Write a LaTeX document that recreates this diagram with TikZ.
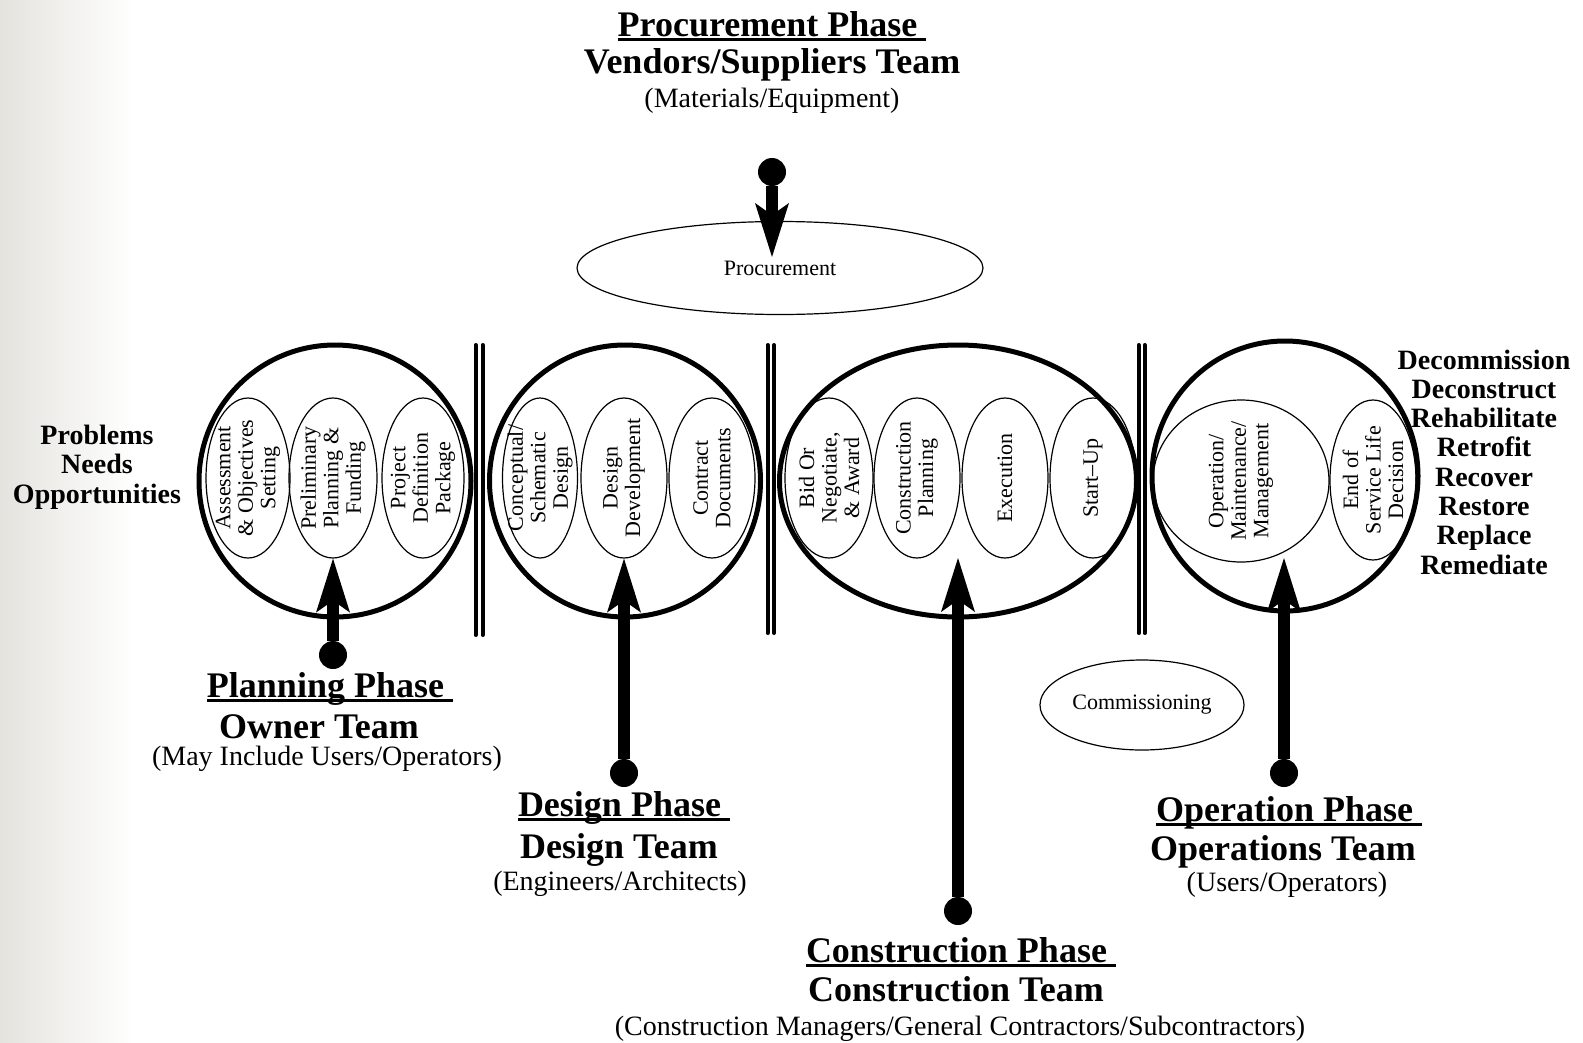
\documentclass[tikz,border=0pt]{standalone}
\usepackage{fontspec}
\setmainfont{Liberation Serif}
\usetikzlibrary{shapes.geometric, arrows.meta, positioning}
\definecolor{slidegray}{RGB}{228,227,222}

\newcommand{\phaseline}[1]{\setbox0=\hbox{#1}\rlap{\rule[-5pt]{\wd0}{3pt}}\box0}

\tikzset{
  phasering/.style={ellipse, draw, line width=5pt, inner sep=0pt},
  stageoval/.style={ellipse, draw, line width=1.2pt, inner sep=0pt, minimum height=160pt},
  stagetext/.style={rotate=90, align=center, inner sep=0pt, font=\fontsize{22}{22.5}\selectfont},
  taskoval/.style={ellipse, draw, line width=1.2pt, inner sep=0pt, font=\fontsize{22}{24}\selectfont},
  headtext/.style={anchor=base, font=\fontsize{36}{40}\selectfont\bfseries},
  notetext/.style={anchor=base, font=\fontsize{28}{30}\selectfont},
  listtext/.style={align=center, font=\fontsize{28}{29.3}\selectfont\bfseries},
  teamdot/.style={circle, fill, inner sep=0pt, minimum size=28pt},
  divider/.style={line width=4pt, line cap=round},
  phasearrow/.style={line width=12pt, -{Stealth[length=54pt, width=34pt, inset=12pt, line width=0pt]}},
}

\begin{document}
\begin{tikzpicture}[x=1pt, y=-1pt]
        \useasboundingbox (0,0) rectangle (1583,1042);
        \fill[white] (0,0) rectangle (1583,1042);
        \shade[left color=slidegray, right color=white] (0,0) rectangle (135,1042);

        % Phase rings
        \node[phasering, minimum width=272pt, minimum height=272pt] (planning) at (335,481) {};
        \node[phasering, minimum width=271pt, minimum height=272pt] (design) at (625,481) {};
        \node[phasering, minimum width=357pt, minimum height=272pt] (construct) at (958,481) {};
        \node[phasering, minimum width=266pt, minimum height=270pt] (operation) at (1285,476) {};

        % Separators between the phases
        \foreach \x/\y in {475.5/637, 482.5/637, 767.5/635, 774/635, 1138.7/635, 1144.7/635}
          \draw[divider] (\x,345) -- (\x,\y-2);

        % Planning steps
        \node[stageoval, minimum width=84pt, label={[stagetext]center:{Assessment\\\& Objectives\\Setting}}] (assess) at (248,478) {};
        \node[stageoval, minimum width=88pt, label={[stagetext]center:{Preliminary\\Planning \&\\Funding}}] (prelim) at (333,478) {};
        \node[stageoval, minimum width=82pt, label={[stagetext]center:{Project\\Definition\\Package}}] (defpack) at (423,478) {};

        % Design steps
        \node[stageoval, minimum width=75pt, label={[stagetext]center:{Conceptual/\\Schematic\\Design}}] (concept) at (540,478) {};
        \node[stageoval, minimum width=86pt, label={[stagetext]center:{Design\\Development}}] (devel) at (624,478) {};
        \node[stageoval, minimum width=86pt, label={[stagetext]center:{Contract\\Documents}}] (contract) at (712,478) {};

        % Construction steps
        \node[stageoval, minimum width=88pt, label={[stagetext]center:{Bid Or\\Negotiate,\\\& Award}}] (bid) at (829,478) {};
        \node[stageoval, minimum width=86pt, label={[stagetext]center:{Construction\\Planning}}] (conplan) at (917,478) {};
        \node[stageoval, minimum width=86pt, label={[stagetext]center:{Execution}}] (execute) at (1005,478) {};
        \node[stageoval, minimum width=86pt, label={[stagetext]center:{Start--Up}}] (startup) at (1093,478) {};

        % Operation steps
        \node[stageoval, minimum width=176pt, minimum height=162pt, label={[stagetext]center:{Operation/\\Maintenance/\\Management}}] (operate) at (1241,481) {};
        \node[stageoval, minimum width=86pt, label={[stagetext]center:{End of\\Service Life\\Decision}}] (endlife) at (1373,480) {};

        % Procurement and commissioning
        \node[taskoval, minimum width=406pt, minimum height=93pt] (procure) at (780,268) {Procurement};
        \node[taskoval, minimum width=204pt, minimum height=90pt] (commission) at (1142,705) {Commissioning};

        % Side lists
        \node[listtext] (needs) at (97,467) {Problems\\Needs\\Opportunities};
        \node[listtext] (outcomes) at (1484,462) {Decommission\\Deconstruct\\Rehabilitate\\Retrofit\\Recover\\Restore\\Replace\\Remediate};

        % Teams
        \node[headtext] (procHead) at (772,36) {\phaseline{Procurement Phase\ }};
        \node[headtext] (procTeam) at (772,73) {Vendors/Suppliers Team};
        \node[notetext] (procNote) at (772,107) {(Materials/Equipment)};

        \node[headtext] (planHead) at (330,697) {\phaseline{Planning Phase\ }};
        \node[headtext] (planTeam) at (319,738) {Owner Team};
        \node[notetext] (planNote) at (327,765) {(May Include Users/Operators)};

        \node[headtext] (desHead) at (624,816) {\phaseline{Design Phase\ }};
        \node[headtext] (desTeam) at (619,858) {Design Team};
        \node[notetext] (desNote) at (620,890) {(Engineers/Architects)};

        \node[headtext] (conHead) at (961,962) {\phaseline{Construction Phase\ }};
        \node[headtext] (conTeam) at (956,1001) {Construction Team};
        \node[notetext] (conNote) at (960,1035) {(Construction Managers/General Contractors/Subcontractors)};

        \node[headtext] (opHead) at (1289,821) {\phaseline{Operation Phase\ }};
        \node[headtext] (opTeam) at (1283,860) {Operations Team};
        \node[notetext] (opNote) at (1287,891) {(Users/Operators)};

        % Team dots and arrows
        \node[teamdot] (procDot) at (772,172) {};
        \node[teamdot] (planDot) at (333,655) {};
        \node[teamdot] (desDot) at (624,773) {};
        \node[teamdot] (conDot) at (958,911) {};
        \node[teamdot] (opDot) at (1284,773) {};
        \coordinate (procTip) at (772,257);
        \coordinate (conTip) at (958,558);
        \coordinate (opTip) at (1284,558);

        \draw[phasearrow] (procDot) -- (procTip);
        \draw[phasearrow] (planDot) -- (prelim.south);
        \draw[phasearrow] (desDot) -- (devel.south);
        \draw[phasearrow] (conDot) -- (conTip);
        \draw[phasearrow] (opDot) -- (opTip);

\end{tikzpicture}
\end{document}
